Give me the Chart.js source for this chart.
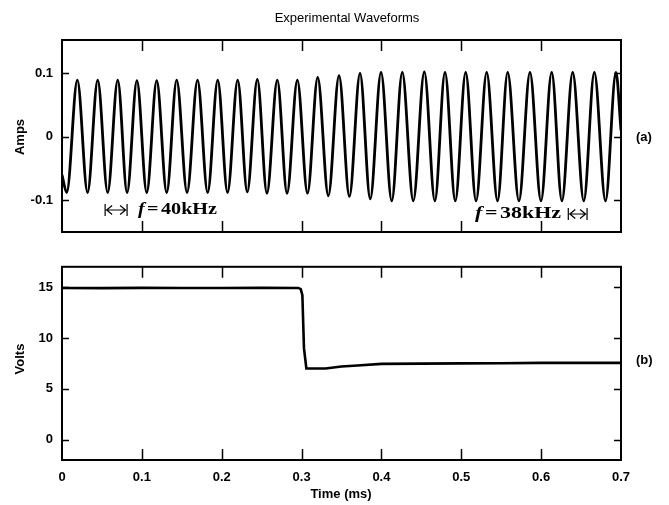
<!DOCTYPE html>
<html>
<head>
<meta charset="utf-8">
<script src="https://cdn.jsdelivr.net/npm/chart.js@4.4.1/dist/chart.umd.min.js"></script>
<style>
html,body{margin:0;padding:0;background:#fff;}
canvas{position:absolute;left:0;display:block;}
</style>
</head>
<body>
<canvas id="c1" width="669" height="250" style="top:0px"></canvas>
<canvas id="c2" width="669" height="255" style="top:250px"></canvas>
<script>
// ---- data ----
const timeTicks = [0, 0.1, 0.2, 0.3, 0.4, 0.5, 0.6, 0.7];
const ampTicks = [-0.1, 0, 0.1];
const voltTicks = [0, 5, 10, 15];

// current waveform: times (ms) of start, troughs/peaks, end
const ampTime = [0.0000, 0.0059, 0.0192, 0.0320, 0.0447, 0.0572, 0.0698, 0.0815, 0.0938, 0.1061,
  0.1186, 0.1311, 0.1436, 0.1566, 0.1697, 0.1824, 0.1950, 0.2073, 0.2200, 0.2320,
  0.2446, 0.2566, 0.2696, 0.2818, 0.2947, 0.3074, 0.3202, 0.3335, 0.3469, 0.3599,
  0.3732, 0.3860, 0.3995, 0.4129, 0.4261, 0.4399, 0.4537, 0.4669, 0.4796, 0.4925,
  0.5055, 0.5185, 0.5318, 0.5454, 0.5581, 0.5722, 0.5860, 0.5998, 0.6132, 0.6260,
  0.6395, 0.6534, 0.6666, 0.6806, 0.6937, 0.7000];
const ampValue = [-0.060, -0.088, 0.089, -0.088, 0.089, -0.088, 0.089, -0.088, 0.088, -0.088,
  0.088, -0.088, 0.089, -0.088, 0.089, -0.088, 0.089, -0.088, 0.089, -0.087,
  0.090, -0.089, 0.089, -0.089, 0.089, -0.089, 0.093, -0.093, 0.096, -0.094,
  0.0995, -0.098, 0.101, -0.101, 0.101, -0.101, 0.102, -0.101, 0.101, -0.101,
  0.101, -0.101, 0.101, -0.101, 0.101, -0.101, 0.101, -0.101, 0.101, -0.101,
  0.101, -0.101, 0.101, -0.101, 0.101, 0.010];

// voltage waveform
const voltTime = [0, 0.05, 0.10, 0.15, 0.20, 0.25, 0.296, 0.299, 0.301, 0.303, 0.306, 0.33, 0.35, 0.37, 0.40, 0.45, 0.50, 0.55, 0.60, 0.65, 0.70];
const voltValue = [14.92, 14.9, 14.93, 14.92, 14.92, 14.93, 14.92, 14.8, 14.2, 9.0, 7.0, 7.0, 7.2, 7.3, 7.45, 7.48, 7.5, 7.52, 7.55, 7.55, 7.55];

const SANS = '"Liberation Sans", Arial, Helvetica, sans-serif';
const SERIF = '"Liberation Serif", "Times New Roman", serif';

function pts(xs, ys) { return xs.map((x, i) => ({x: x, y: ys[i]})); }

function frameAndTicks(chart) {
  const ctx = chart.ctx, a = chart.chartArea, xs = chart.scales.x, ys = chart.scales.y;
  ctx.save();
  ctx.strokeStyle = '#000';
  ctx.lineWidth = 1.5;
  ctx.beginPath();
  xs.ticks.forEach(t => {
    const px = Math.round(xs.getPixelForValue(t.value)) + 0.5;
    if (px <= a.left + 2 || px >= a.right - 2) return;
    ctx.moveTo(px, a.bottom); ctx.lineTo(px, a.bottom - 11);
    ctx.moveTo(px, a.top); ctx.lineTo(px, a.top + 11);
  });
  ys.ticks.forEach(t => {
    const py = Math.round(ys.getPixelForValue(t.value)) + 0.5;
    if (py <= a.top + 2 || py >= a.bottom - 2) return;
    ctx.moveTo(a.left, py); ctx.lineTo(a.left + 7, py);
    ctx.moveTo(a.right, py); ctx.lineTo(a.right - 7, py);
  });
  ctx.stroke();
  ctx.lineWidth = 2;
  ctx.strokeRect(a.left, a.top, a.right - a.left, a.bottom - a.top);
  ctx.restore();
}

function rotatedText(ctx, text, x, y) {
  ctx.save();
  ctx.translate(x, y);
  ctx.rotate(-Math.PI / 2);
  ctx.textAlign = 'center';
  ctx.textBaseline = 'middle';
  ctx.fillText(text, 0, 0);
  ctx.restore();
}

function drawFreq(ctx, num, left, cy, width) {
  ctx.save();
  const fFont = 'italic bold 17px ' + SERIF;
  const rFont = 'bold 17px ' + SERIF;
  ctx.font = fFont; const wf = ctx.measureText('f').width;
  ctx.font = rFont; const we = ctx.measureText('=').width; const wn = ctx.measureText(num + 'kHz').width;
  const gap = 2;
  const total = wf + gap + we + gap + wn;
  const sx = width / total;
  ctx.translate(left, cy);
  ctx.scale(sx, 1);
  ctx.fillStyle = '#000';
  ctx.textBaseline = 'middle';
  ctx.textAlign = 'left';
  ctx.font = fFont; ctx.fillText('f', 0, 0);
  ctx.font = rFont; ctx.fillText('=', wf + gap, 0);
  ctx.fillText(num + 'kHz', wf + gap + we + gap, 0);
  ctx.restore();
}

function drawSpan(ctx, x1, x2, y) {
  ctx.save();
  ctx.strokeStyle = '#000';
  ctx.lineWidth = 1.2;
  ctx.beginPath();
  ctx.moveTo(x1, y - 6); ctx.lineTo(x1, y + 6);
  ctx.moveTo(x2, y - 6); ctx.lineTo(x2, y + 6);
  ctx.moveTo(x1 + 1, y); ctx.lineTo(x2 - 1, y);
  ctx.moveTo(x1 + 7, y - 4.5); ctx.lineTo(x1 + 1.5, y); ctx.lineTo(x1 + 7, y + 4.5);
  ctx.moveTo(x2 - 7, y - 4.5); ctx.lineTo(x2 - 1.5, y); ctx.lineTo(x2 - 7, y + 4.5);
  ctx.stroke();
  ctx.restore();
}

function baseOptions(yMin, yMax, yTickList, showX, padTop, padBottom, xHeight) {
  return {
    responsive: false,
    devicePixelRatio: 1,
    animation: false,
    events: [],
    layout: {padding: {left: 0, right: 48, top: padTop, bottom: padBottom}},
    plugins: {legend: {display: false}, tooltip: {enabled: false}, title: {display: false}},
    scales: {
      x: {
        type: 'linear', min: 0, max: 0.7,
        afterBuildTicks: s => { s.ticks = timeTicks.map(v => ({value: v})); },
        afterFit: s => { s.height = xHeight; },
        grid: {display: true, drawOnChartArea: false, drawTicks: false},
        border: {display: false},
        ticks: {display: showX, padding: 10, color: '#000', maxRotation: 0, autoSkip: false,
          font: {family: SANS, size: 13, weight: 'bold'}, callback: v => String(v)}
      },
      y: {
        type: 'linear', min: yMin, max: yMax,
        afterBuildTicks: s => { s.ticks = yTickList.map(v => ({value: v})); },
        afterFit: s => { s.width = 62; },
        grid: {display: true, drawOnChartArea: false, drawTicks: false},
        border: {display: false},
        ticks: {padding: 9, color: '#000', font: {family: SANS, size: 13, weight: 'bold'}, callback: v => String(v)}
      }
    }
  };
}

// ---- top chart: current ----
new Chart(document.getElementById('c1'), {
  type: 'line',
  data: {datasets: [{
    data: pts(ampTime, ampValue),
    borderColor: '#000', borderWidth: 2.8, pointRadius: 0, fill: false,
    cubicInterpolationMode: 'monotone'
  }]},
  options: baseOptions(-0.15, 0.152, ampTicks, false, 40, 18, 0),
  plugins: [{
    id: 'decorA',
    afterDraw(chart) {
      frameAndTicks(chart);
      const ctx = chart.ctx, xs = chart.scales.x;
      ctx.save();
      ctx.fillStyle = '#000';
      ctx.font = '13px ' + SANS;
      ctx.textAlign = 'center'; ctx.textBaseline = 'middle';
      ctx.fillText('Experimental Waveforms', 347, 18);
      ctx.font = 'bold 13px ' + SANS;
      ctx.textAlign = 'left';
      ctx.fillText('(a)', 636, 137);
      rotatedText(ctx, 'Amps', 20, 137);
      ctx.restore();
      drawSpan(ctx, xs.getPixelForValue(0.054), xs.getPixelForValue(0.0815), 210);
      drawFreq(ctx, '40', 138, 210, 79);
      drawFreq(ctx, '38', 475, 214, 86);
      drawSpan(ctx, xs.getPixelForValue(0.634), xs.getPixelForValue(0.6575), 214);
    }
  }]
});

// ---- bottom chart: voltage ----
new Chart(document.getElementById('c2'), {
  type: 'line',
  data: {datasets: [{
    data: pts(voltTime, voltValue),
    borderColor: '#000', borderWidth: 2.6, pointRadius: 0, fill: false, tension: 0
  }]},
  options: baseOptions(-2, 17, voltTicks, true, 16, 0, 45),
  plugins: [{
    id: 'decorB',
    afterDraw(chart) {
      frameAndTicks(chart);
      const ctx = chart.ctx;
      ctx.save();
      ctx.fillStyle = '#000';
      ctx.font = 'bold 13px ' + SANS;
      ctx.textAlign = 'left'; ctx.textBaseline = 'middle';
      ctx.fillText('(b)', 636, 110);
      rotatedText(ctx, 'Volts', 20, 109);
      ctx.textAlign = 'center';
      ctx.fillText('Time (ms)', 341, 244);
      ctx.restore();
    }
  }]
});
</script>
</body>
</html>
